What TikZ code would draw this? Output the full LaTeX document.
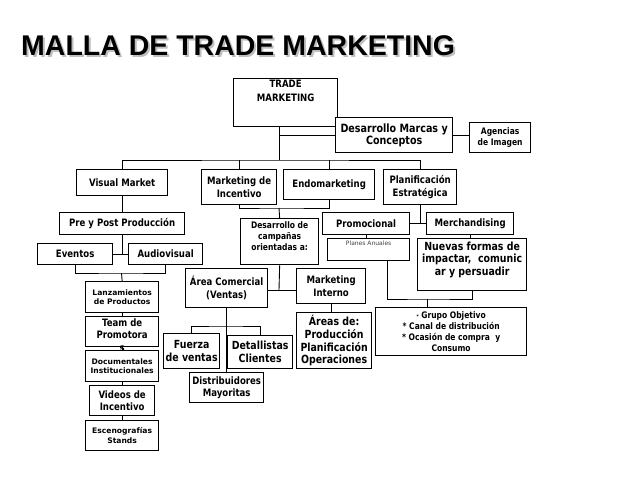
\documentclass[tikz,border=0pt]{standalone}
\usepackage{fontspec}
\setmainfont{DejaVu Sans}[FakeStretch=0.84]
\newfontfamily\widefont{DejaVu Sans}
\newfontfamily\titlefont{Liberation Sans}
\usetikzlibrary{positioning, calc}

\tikzset{
    box/.style={draw, line width=1.3pt, fill=white, align=center, inner sep=1pt, anchor=north west,
        font=\bfseries\fontsize{10.2}{12.5}\selectfont},
    big/.style={font=\bfseries\fontsize{11.2}{12.8}\selectfont},
    small/.style={font=\bfseries\fontsize{9}{11}\selectfont},
    wide/.style={font=\widefont\bfseries\fontsize{7.6}{9.3}\selectfont},
    link/.style={line width=0.9pt},
    headline/.style={anchor=base west, inner sep=0pt, font=\titlefont\bfseries\fontsize{28.5}{30}\selectfont},
}

\begin{document}
\begin{tikzpicture}[x=1pt, y=-1pt]
    \useasboundingbox (0,0) rectangle (638,479);

    % title with its shadow
    \node[headline, text=gray!50] (shadow) at (23,57) {MALLA DE TRADE MARKETING};
    \node[headline] (title) at (21,55) {MALLA DE TRADE MARKETING};

    % top level
    \node[box, minimum width=104, minimum height=48] (trade) at (233,78) {TRADE\\[1.5pt]MARKETING\\[12pt]};
    \node[box, minimum width=117, minimum height=35, font=\bfseries\fontsize{11.4}{12}\selectfont] (des) at (335,117) {Desarrollo Marcas y\\Conceptos};
    \node[box, small, minimum width=61, minimum height=30] (ag) at (469,122) {Agencias\\de Imagen};

    \node[box, minimum width=91, minimum height=26] (vm) at (76,169) {Visual Market};
    \node[box, minimum width=75, minimum height=35] (inc) at (201,169) {Marketing de\\Incentivo};
    \node[box, minimum width=91, minimum height=30] (endo) at (283,169) {Endomarketing};
    \node[box, minimum width=73, minimum height=35] (plan) at (383,169) {Planificación\\Estratégica};

    % visual market branch
    \node[box, minimum width=125, minimum height=22] (pre) at (59,212) {Pre y Post Producción};
    \node[box, minimum width=75, minimum height=21] (ev) at (37,243) {Eventos};
    \node[box, minimum width=74, minimum height=21] (av) at (128,243) {Audiovisual};
    \node[box, wide, minimum width=73, minimum height=31] (lanz) at (85,281) {Lanzamientos\\de Productos};
    \node[box, minimum width=73, minimum height=30] (team) at (85,316) {\parbox[c][26pt][t]{70pt}{\centering Team de\\Promotora\\s}};
    \node[box, wide, minimum width=73, minimum height=31] (doc) at (85,350) {Documentales\\Institucionales};
    \node[box, minimum width=65, minimum height=30] (vid) at (89,385) {Videos de\\Incentivo};
    \node[box, wide, minimum width=73, minimum height=30] (esc) at (85,420) {Escenografías\\Stands};

    % incentive and internal marketing
    \node[box, small, minimum width=78, minimum height=46] (camp) at (240,218) {\parbox[c][40pt][t]{74pt}{\centering Desarrollo de\\campañas\\orientadas a:}};
    \node[box, minimum width=82, minimum height=39] (area) at (185,268) {Área Comercial\\(Ventas)};
    \node[box, minimum width=69, minimum height=35] (mi) at (296,268) {Marketing\\Interno};
    \node[box, big, minimum width=56, minimum height=35] (fz) at (163,333) {Fuerza\\de ventas};
    \node[box, big, minimum width=65, minimum height=33] (det) at (227,335) {Detallistas\\Clientes};
    \node[box, minimum width=74, minimum height=30] (dist) at (189,372) {Distribuidores\\Mayoritas};
    \node[box, big, minimum width=75, minimum height=56] (areas) at (296,312) {Áreas de:\\Producción\\Planificación\\Operaciones};

    % strategic planning
    \node[box, minimum width=87, minimum height=22] (prom) at (322,212) {Promocional};
    \node[box, minimum width=87, minimum height=22] (merch) at (426,212) {Merchandising};
    \node[box, minimum width=82, minimum height=22, font=\widefont\fontsize{6}{7}\selectfont, text=darkgray] (planes) at (327,238) {\parbox[c][17pt][t]{70pt}{\centering Planes Anuales}};
    \node[box, big, minimum width=109, minimum height=52] (nuevas) at (417,238) {\parbox[c][48pt][t]{105pt}{\centering\vspace{1pt}Nuevas formas de\\impactar,~ comunic\\ar y persuadir}};
    \node[box, small, minimum width=151, minimum height=48] (grupo) at (375,307) {{\fontsize{5}{5}\selectfont *} Grupo Objetivo\\{*} Canal de distribución\\{*} Ocasión de compra~ y\\Consumo};

    % connectors
    \coordinate (bus) at (279,160);
    \draw[link] (bus |- trade.south) -- (bus);
    \draw[link] (bus |- des.west) -- (des.west);
    \draw[link] (des.east) -- (des.east -| ag.west);
    \draw[link] (vm.north) |- (bus) -| (plan.north);
    \draw[link] (inc.north) -- (inc.north |- bus);
    \draw[link] (endo.north) -- (endo.north |- bus);

    \coordinate (jn1) at (279,208);
    \draw[link] (inc.south) |- (jn1) -| (endo.south);
    \draw[link] (jn1) -- (camp.north);

    \draw[link] (vm.south) -- (pre.north);
    \draw[link] (pre.south) -- (pre.south |- ev.east);
    \draw[link] (ev.east) -- (av.west);
    \coordinate (jn2) at (121.5,273);
    \draw[link] (ev.south) |- (jn2) -| (av.south);
    \draw[link] (jn2) -- (lanz.north);
    \draw[link] (lanz.south) -- (team.north);
    \draw[link] (team.south) -- (doc.north);
    \draw[link] (doc.south) -- (vid.north);
    \draw[link] (vid.south) -- (esc.north);

    \coordinate (jn4) at (279,290);
    \draw[link] (camp.south) -- (jn4);
    \draw[link] (area.east |- jn4) -- (mi.west |- jn4);
    \draw[link] (mi.south) -- (mi.south |- areas.north);
    \coordinate (jn3) at (226,326);
    \draw[link] (area.south) -- (dist.north);
    \draw[link] (fz.north) |- (jn3) -| (det.north);

    \draw[link] (plan.south) -- (plan.south |- prom.east);
    \draw[link] (prom.east) -- (merch.west);
    \draw[link] (prom.south) -- (prom.south |- planes.north);
    \draw[link] (merch.south) -- (merch.south |- nuevas.north);
    \coordinate (jn5) at (427,299);
    \draw[link] ([xshift=19pt]planes.south) |- (jn5) -| (nuevas.south);
    \draw[link] (jn5) -- (jn5 |- grupo.north);
\end{tikzpicture}
\end{document}
